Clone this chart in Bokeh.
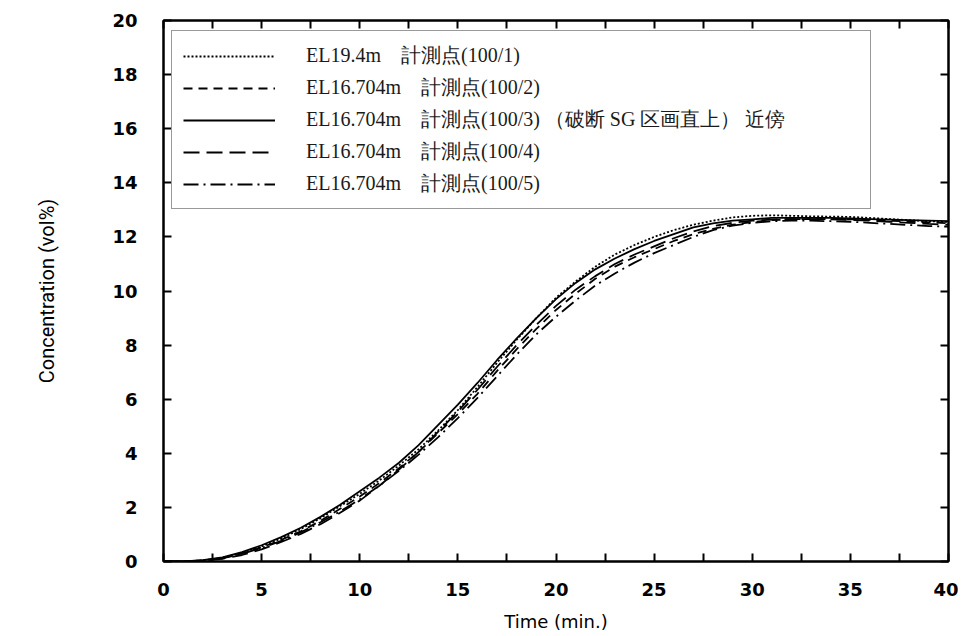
from bokeh.plotting import figure
from bokeh.models import Range1d, LinearAxis, FixedTicker, Legend, LegendItem, CustomJSTickFormatter
from bokeh.embed import file_html
from bokeh.resources import INLINE

# ---- data ----
time_min = list(range(0, 41))

p100_1 = [0, 0, 0.04, 0.13, 0.32, 0.56, 0.85, 1.2, 1.6, 2.05, 2.5, 3.0, 3.55, 4.15, 4.85, 5.6,
          6.45, 7.35, 8.2, 9.0, 9.75, 10.35, 10.9, 11.35, 11.7, 12.0, 12.25, 12.45, 12.6, 12.72,
          12.78, 12.8, 12.78, 12.76, 12.75, 12.74, 12.7, 12.66, 12.62, 12.58, 12.55]
p100_2 = [0, 0, 0.04, 0.13, 0.3, 0.52, 0.8, 1.12, 1.5, 1.95, 2.4, 2.9, 3.45, 4.05, 4.75, 5.45,
          6.2, 7.05, 7.85, 8.6, 9.3, 9.9, 10.45, 10.9, 11.25, 11.55, 11.85, 12.1, 12.3, 12.45,
          12.55, 12.62, 12.65, 12.66, 12.66, 12.65, 12.63, 12.6, 12.57, 12.54, 12.5]
p100_3 = [0.0, 0.0, 0.05, 0.15, 0.35, 0.6, 0.9, 1.25, 1.65, 2.1, 2.6, 3.1, 3.65, 4.3, 5.05, 5.8,
          6.6, 7.45, 8.25, 9.0, 9.7, 10.3, 10.8, 11.2, 11.55, 11.85, 12.1, 12.35, 12.5, 12.6,
          12.65, 12.7, 12.7, 12.7, 12.7, 12.68, 12.66, 12.64, 12.62, 12.6, 12.58]
p100_4 = [0, 0, 0.02, 0.1, 0.24, 0.45, 0.72, 1.02, 1.38, 1.8, 2.25, 2.8, 3.4, 4.05, 4.8, 5.55,
          6.35, 7.2, 8.0, 8.75, 9.45, 10.05, 10.55, 11.0, 11.35, 11.65, 11.95, 12.2, 12.4, 12.52,
          12.6, 12.64, 12.66, 12.66, 12.65, 12.63, 12.6, 12.56, 12.52, 12.48, 12.45]
p100_5 = [0, 0, 0.03, 0.12, 0.28, 0.5, 0.76, 1.08, 1.45, 1.85, 2.3, 2.8, 3.35, 3.95, 4.6, 5.3,
          6.05, 6.85, 7.65, 8.4, 9.05, 9.65, 10.2, 10.65, 11.05, 11.4, 11.7, 12.0, 12.25, 12.42,
          12.52, 12.58, 12.6, 12.6, 12.58, 12.56, 12.52, 12.48, 12.44, 12.4, 12.38]

series_labels = [
    "EL19.4m\u3000計測点(100/1)",
    "EL16.704m\u3000計測点(100/2)",
    "EL16.704m\u3000計測点(100/3) （破断 SG 区画直上） 近傍",
    "EL16.704m\u3000計測点(100/4)",
    "EL16.704m\u3000計測点(100/5)",
]
series_values = [p100_1, p100_2, p100_3, p100_4, p100_5]
series_dash = ["2 2", "9 6", "solid", "16 7", "15 5 2 5"]

x_major = [0, 5, 10, 15, 20, 25, 30, 35, 40]
x_minor = [2.5, 7.5, 12.5, 17.5, 22.5, 27.5, 32.5, 37.5]
x_top = [0, 2.5, 5, 7.5, 10, 12.5, 15, 17.5, 20, 22.5, 25, 27.5, 30, 32.5, 35, 37.5, 40]
y_ticks = [0, 2, 4, 6, 8, 10, 12, 14, 16, 18, 20]

# ---- figure ----
p = figure(width=958, height=634, output_backend="svg", toolbar_location=None,
           x_range=Range1d(0, 40), y_range=Range1d(0, 20),
           min_border_left=163, min_border_right=10, min_border_top=20, min_border_bottom=73)
p.grid.visible = False
p.outline_line_color = "black"
p.outline_line_width = 2
p.background_fill_color = "white"
p.border_fill_color = "white"

tick_font = "DejaVu Sans"
xa = p.xaxis[0]
xa.ticker = FixedTicker(ticks=x_major, minor_ticks=x_minor)
xa.major_tick_in = 8
xa.major_tick_out = 0
xa.minor_tick_in = 8
xa.minor_tick_out = 0
xa.axis_line_width = 2
xa.major_tick_line_width = 2
xa.minor_tick_line_width = 2
xa.major_label_text_font = tick_font
xa.major_label_text_font_size = "18px"
xa.major_label_text_font_style = "bold"
xa.major_label_text_color = "black"
xa.major_label_standoff = 21
xa.axis_label = "Time (min.)"
xa.axis_label_text_font = "DejaVu Sans"
xa.axis_label_text_font_size = "18px"
xa.axis_label_text_font_style = "normal"
xa.axis_label_text_color = "black"
xa.axis_label_standoff = 12

ya = p.yaxis[0]
ya.ticker = FixedTicker(ticks=y_ticks, minor_ticks=[])
ya.major_tick_in = 8
ya.major_tick_out = 0
ya.minor_tick_in = 0
ya.minor_tick_out = 0
ya.axis_line_width = 2
ya.major_tick_line_width = 2
ya.major_label_text_font = tick_font
ya.major_label_text_font_size = "18px"
ya.major_label_text_font_style = "bold"
ya.major_label_text_color = "black"
ya.major_label_standoff = 26
ya.axis_label = "Concentration (vol%)"
ya.axis_label_text_font = "Roboto"
ya.axis_label_text_font_size = "20px"
ya.axis_label_text_font_style = "normal"
ya.axis_label_text_color = "black"
ya.axis_label_standoff = 50

blank = CustomJSTickFormatter(code="return ''")
top = LinearAxis(ticker=FixedTicker(ticks=x_top, minor_ticks=[]), formatter=blank,
                 major_tick_in=8, major_tick_out=0, minor_tick_in=0, minor_tick_out=0,
                 major_tick_line_width=2, axis_line_width=2, major_label_standoff=0)
p.add_layout(top, "above")
right = LinearAxis(ticker=FixedTicker(ticks=y_ticks, minor_ticks=[]), formatter=blank,
                   major_tick_in=8, major_tick_out=0, minor_tick_in=0, minor_tick_out=0,
                   major_tick_line_width=2, axis_line_width=2, major_label_standoff=0)
p.add_layout(right, "right")

items = []
for lab, vals, dash in zip(series_labels, series_values, series_dash):
    r = p.line(time_min, vals, line_color="black", line_width=1.8, line_dash=dash)
    items.append(LegendItem(label=lab, renderers=[r]))

legend = Legend(items=items, location=(8, 352), margin=0, padding=11,
                glyph_width=92, glyph_height=22, label_height=22, spacing=5,
                label_standoff=31, label_width=553,
                label_text_font="Liberation Serif", label_text_font_size="20px",
                label_text_color="#1a1a1a",
                border_line_color="#333333", border_line_width=1,
                background_fill_color="white", background_fill_alpha=1.0)
p.add_layout(legend)

open("out.html", "w").write(file_html(p, INLINE))
